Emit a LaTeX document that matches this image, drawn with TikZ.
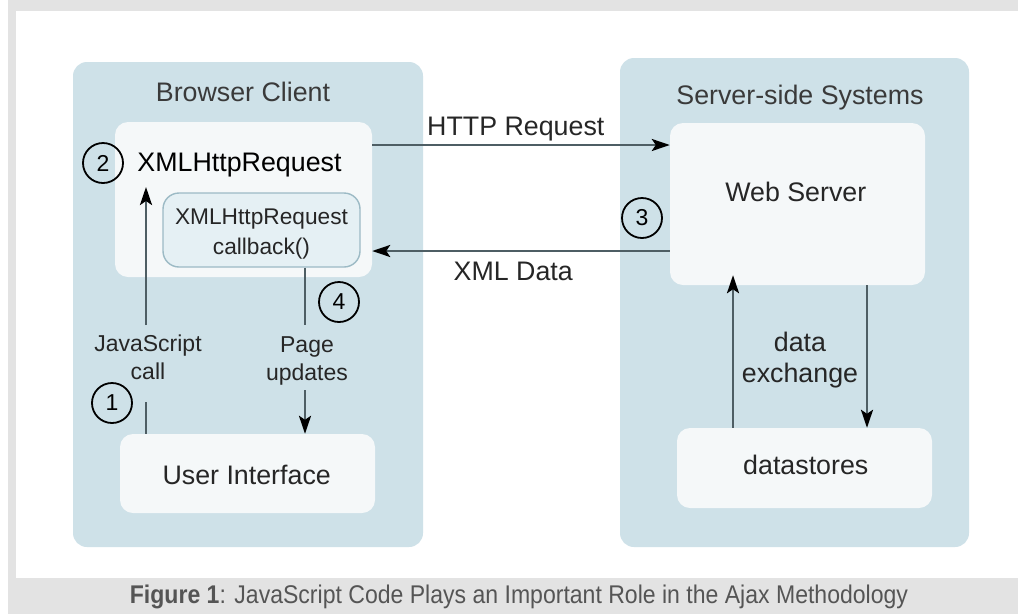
\documentclass[tikz,border=0pt]{standalone}
\usepackage{fontspec}
\setmainfont{Liberation Sans}
\newfontfamily\capfont[FakeStretch=0.9]{Liberation Sans}
\usetikzlibrary{arrows.meta}
\definecolor{framegray}{HTML}{E3E3E3}
\definecolor{panelblue}{HTML}{CEE1E8}
\definecolor{boxwhite}{HTML}{F5F8F9}
\definecolor{cbfill}{HTML}{E5F0F4}
\definecolor{cbdraw}{HTML}{9CBAC5}
\definecolor{arrgray}{HTML}{4E5E64}
\definecolor{titlegray}{HTML}{3A3A3A}
\definecolor{labelgray}{HTML}{262626}
\definecolor{captext}{HTML}{555555}
\begin{document}
\begin{tikzpicture}[x=1pt,y=-1pt,
  panel/.style={fill=panelblue, rounded corners=14pt, inner sep=0pt},
  whitebox/.style={fill=boxwhite, rounded corners=13pt, inner sep=0pt},
  cbstyle/.style={fill=cbfill, draw=cbdraw, line width=1.4pt, rounded corners=16pt, inner sep=0pt},
  titletext/.style={font=\fontsize{26.8}{30}\selectfont, text=titlegray, inner sep=0pt, anchor=base},
  boxtext/.style={font=\fontsize{26.8}{30}\selectfont, text=labelgray, inner sep=0pt, anchor=base},
  smalllabel/.style={font=\fontsize{23}{28}\selectfont, text=labelgray, inner sep=0pt, align=center},
  biglabel/.style={font=\fontsize{26.8}{31}\selectfont, text=labelgray, inner sep=0pt, align=center},
  stepnum/.style={circle, draw=black, line width=1.8pt, minimum size=40pt, inner sep=0pt, font=\fontsize{23}{26}\selectfont},
  plainline/.style={draw=arrgray, line width=2.6pt},
  arr/.style={draw=arrgray, line width=2.6pt, -{Stealth[length=18pt,width=12pt,inset=4pt,color=black]}}
]
\useasboundingbox (0,0) rectangle (1018,614);
\fill[white] (0,0) rectangle (1018,614);
% frame
\fill[framegray] (8,0) rectangle (1018,11);
\fill[framegray] (8,0) rectangle (16,578);
\fill[framegray] (8,578) rectangle (1018,614);

% panels
\node[panel, minimum width=350pt, minimum height=485pt] (bc) at (248,304.5) {};
\node[panel, minimum width=349pt, minimum height=489pt] (ss) at (794.5,302.5) {};
\node[titletext] (bctitle) at (243,101.7) {Browser Client};
\node[titletext] (sstitle) at (800,104) {Server-side Systems};

% boxes
\node[whitebox, minimum width=257pt, minimum height=155pt] (xhr) at (243.5,199.5) {};
\node[cbstyle, minimum width=197pt, minimum height=74pt] (cbbox) at (261.5,230) {};
\node[whitebox, minimum width=255pt, minimum height=79pt] (ui) at (247.5,473.5) {};
\node[whitebox, minimum width=255pt, minimum height=162pt] (ws) at (797.5,204) {};
\node[whitebox, minimum width=255pt, minimum height=80pt] (ds) at (804.5,468) {};

% box texts
\node[boxtext, text=black] (xhrtitle) at (239.5,171.7) {XMLHttpRequest};
\node[font=\fontsize{22.7}{30}\selectfont, text=labelgray, inner sep=0pt, align=center] (cbtext) at (261.5,234.3) {XMLHttpRequest\\callback()};
\node[boxtext] (uitext) at (246.7,484) {User Interface};
\node[boxtext] (wstext) at (795.8,201.7) {Web Server};
\node[boxtext] (dstext) at (805.8,474) {datastores};

% step circles
\node[stepnum] (c1) at (112,403) {1};
\node[stepnum] (c2) at (103,163) {2};
\node[stepnum] (c3) at (642,218) {3};
\node[stepnum] (c4) at (339,302) {4};

% connector labels
\node[smalllabel] (jslabel) at (148,357) {JavaScript\\call};
\node[smalllabel] (pulabel) at (307,360.7) {Page\\updates};
\node[biglabel] (dxlabel) at (800,360.2) {data\\exchange};
\node[boxtext] (httplabel) at (515.8,135) {HTTP Request};
\node[boxtext] (xmllabel) at (513.3,280) {XML Data};

% helper coordinates
\coordinate (jsTop) at (146,187);
\coordinate (jsA) at (146,325);
\coordinate (jsB) at (146,402);
\coordinate (puA) at (305,325);
\coordinate (puB) at (305,390);
\coordinate (httpy) at (0,145);
\coordinate (xmly) at (0,251);
\coordinate (dxa) at (733,0);
\coordinate (dxb) at (867,0);

% connectors
\draw[plainline] (ui.north -| jsB) -- (jsB);
\draw[arr] (jsA) -- (jsTop);
\draw[plainline] (cbbox.south -| puA) -- (puA);
\draw[arr] (puB) -- (ui.north -| puB);
\draw[arr] (xhr.east |- httpy) -- (ws.west |- httpy);
\draw[arr] (ws.west |- xmly) -- (xhr.east |- xmly);
\draw[arr, shorten >=-10pt] (ds.north -| dxa) -- (ws.south -| dxa);
\draw[arr] (ws.south -| dxb) -- (ds.north -| dxb);

% caption
\node[anchor=base, font=\capfont\fontsize{25.6}{30}\selectfont, text=captext, inner sep=0pt] (cap) at (519,603.3) {\textbf{Figure 1}: JavaScript Code Plays an Important Role in the Ajax Methodology};
\end{tikzpicture}
\end{document}
